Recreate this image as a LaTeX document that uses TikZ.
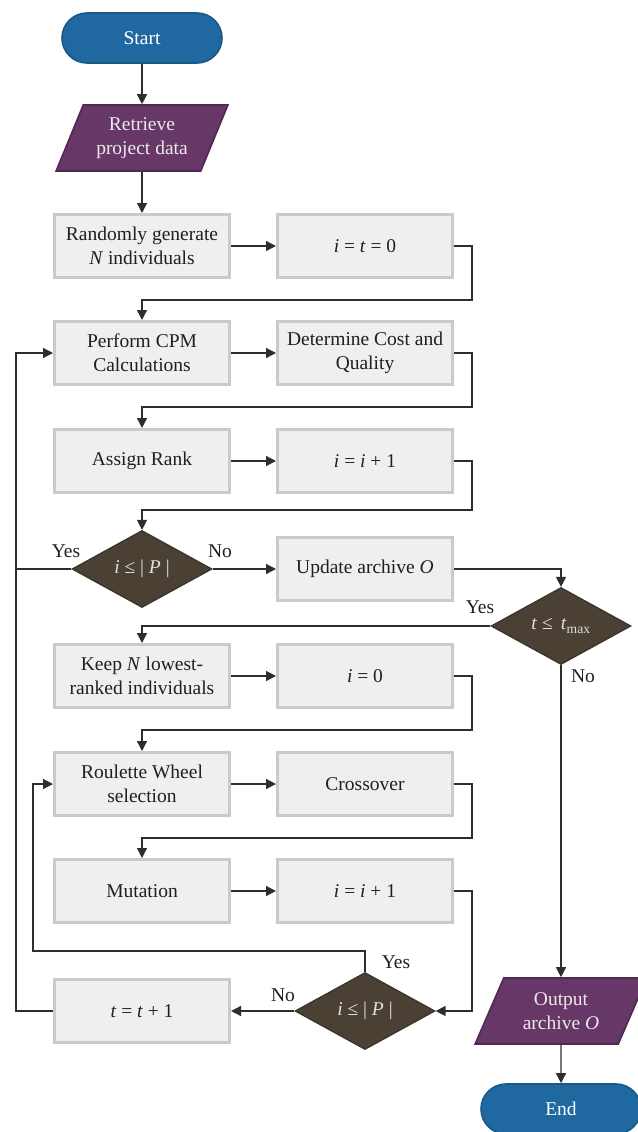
\documentclass[tikz,border=0pt]{standalone}
\usepackage{fontspec}
\setmainfont{Liberation Serif}
\usetikzlibrary{arrows.meta,shapes.geometric}

\definecolor{termblue}{HTML}{1F69A0}
\definecolor{termedge}{HTML}{195986}
\definecolor{iopurple}{HTML}{673767}
\definecolor{ioedge}{HTML}{4F2A50}
\definecolor{decbrown}{HTML}{4A4034}
\definecolor{decedge}{HTML}{3A3229}
\definecolor{boxfill}{HTML}{EFEFEF}
\definecolor{boxedge}{HTML}{CACACA}
\definecolor{wire}{HTML}{2E2E2E}

\tikzset{
  terminal/.style={draw=termedge, line width=1.6pt, fill=termblue, text=white,
    rounded corners=25pt, minimum width=160pt, minimum height=50pt},
  io/.style={draw=ioedge, line width=1.6pt, fill=iopurple, text=white!92!black,
    trapezium, trapezium left angle=63.4, trapezium right angle=116.6,
    trapezium stretches=true, minimum width=172pt, minimum height=66pt,
    align=center, inner sep=1pt},
  process/.style={draw=boxedge, line width=3pt, fill=boxfill, text=black!88,
    minimum width=175pt, minimum height=63pt, align=center},
  decision/.style={draw=decedge, line width=1.2pt, fill=decbrown, text=white!88!black,
    diamond, minimum width=140pt, minimum height=77pt, inner sep=0pt},
  flow/.style={draw=wire, line width=1.3pt, -{Triangle[length=10pt,width=10pt]}},
  wire/.style={draw=wire, line width=1.3pt},
  answer/.style={text=black!88}
}

\begin{document}
\begin{tikzpicture}[x=1pt, y=-1pt, font=\fontsize{19.5}{24}\selectfont]
  \useasboundingbox (0,0) rectangle (637,1132);
  % start and input
  \node[terminal] (start) at (142, 38) {Start};
  \node[io] (load) at (142, 138) {Retrieve\\project data};
  % first column of steps
  \node[process] (rand) at (142, 246) {Randomly generate\\\textit{N} individuals};
  \node[process] (cpm)  at (142, 353) {Perform CPM\\Calculations};
  \node[process] (rank) at (142, 461) {Assign Rank};
  \node[process] (keep) at (142, 676) {Keep \textit{N} lowest-\\ranked individuals};
  \node[process] (roul) at (142, 784) {Roulette Wheel\\selection};
  \node[process] (mut)  at (142, 891) {Mutation};
  \node[process] (tinc) at (142, 1011) {\textit{t} = \textit{t} + 1};
  % second column of steps
  \node[process] (init)  at (365, 246) {\textit{i} = \textit{t} = 0};
  \node[process] (cost)  at (365, 353) {Determine Cost and\\Quality};
  \node[process] (iinc)  at (365, 461) {\textit{i} = \textit{i} + 1};
  \node[process] (upd)   at (365, 569) {Update archive \textit{O}};
  \node[process] (izero) at (365, 676) {\textit{i} = 0};
  \node[process] (cross) at (365, 784) {Crossover};
  \node[process] (inext) at (365, 891) {\textit{i} = \textit{i} + 1};
  % decisions
  \node[decision] (popchk) at (142, 569) {\textit{i} ≤ | \textit{P} |};
  \node[decision] (genchk) at (561, 626) {\textit{t} ≤ \,\textit{t}\textsubscript{max}};
  \node[decision] (selchk) at (365, 1011) {\textit{i} ≤ | \textit{P} |};
  % output and end
  \node[io] (save) at (561, 1011) {Output\\archive \textit{O}};
  \node[terminal] (stop) at (561, 1109) {End};
  % yes / no labels
  \node[answer] (popyes) at (66, 551) {Yes};
  \node[answer] (popno)  at (220, 551) {No};
  \node[answer] (genyes) at (480, 607) {Yes};
  \node[answer] (genno)  at (583, 676) {No};
  \node[answer] (selyes) at (396, 962) {Yes};
  \node[answer] (selno)  at (283, 995) {No};
  % loop rails
  \coordinate (outer) at (16, 0);
  \coordinate (inner) at (33, 0);
  % straight arrows
  \draw[flow] (start) -- (load);
  \draw[flow] (load) -- (rand);
  \draw[flow] (rand) -- (init);
  \draw[flow] (cpm) -- (cost);
  \draw[flow] (rank) -- (iinc);
  \draw[flow] (popchk) -- (upd);
  \draw[flow] (keep) -- (izero);
  \draw[flow] (roul) -- (cross);
  \draw[flow] (mut) -- (inext);
  \draw[flow] (selchk) -- (tinc);
  \draw[flow] (genchk) -- (save);
  \draw[flow] (save) -- (stop);
  % wrap-around arrows
  \draw[flow] (init.east) -- ++(18,0) |- (142, 300) -- (cpm.north);
  \draw[flow] (cost.east) -- ++(18,0) |- (142, 407) -- (rank.north);
  \draw[flow] (iinc.east) -- ++(18,0) |- (142, 510) -- (popchk.north);
  \draw[flow] (izero.east) -- ++(18,0) |- (142, 730) -- (roul.north);
  \draw[flow] (cross.east) -- ++(18,0) |- (142, 838) -- (mut.north);
  \draw[flow] (inext.east) -- ++(18,0) |- (selchk.east);
  \draw[flow] (upd.east) -| (genchk.north);
  \draw[flow] (genchk.west) -| (keep.north);
  % loops back
  \draw[flow] (tinc.west) -- (tinc.west -| outer) |- (cpm.west);
  \draw[wire] (popchk.west) -- (popchk.west -| outer);
  \draw[flow] (selchk.north) -- ++(0,-21) -| (inner |- roul.west) -- (roul.west);
\end{tikzpicture}
\end{document}
